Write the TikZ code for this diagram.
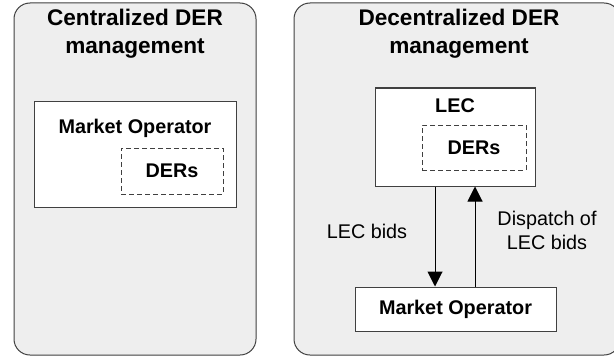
\documentclass[tikz,border=0pt]{standalone}
\usepackage{fontspec}
\setmainfont{Liberation Sans}
\usetikzlibrary{arrows.meta}
\definecolor{panelgray}{HTML}{EEEEEE}
\definecolor{edgegray}{HTML}{404040}
\begin{document}
\begin{tikzpicture}[x=0.5pt,y=-0.5pt,
    title/.style={font=\fontsize{11.3}{14}\selectfont\bfseries,align=center},
    lbl/.style={font=\fontsize{9.9}{12}\selectfont,align=center},
    boxlbl/.style={font=\fontsize{9.9}{12}\selectfont\bfseries},
    box/.style={draw=edgegray,fill=white,line width=0.5pt,inner sep=0pt},
    derbox/.style={box,dash pattern=on 2.5pt off 1.5pt,boxlbl},
    flow/.style={-{Triangle[length=7.5pt,width=7.5pt]},line width=0.5pt}]
    \clip (0,0) rectangle (614,358);
    \useasboundingbox (0,0) rectangle (614,358);
    % panels
    \filldraw[fill=panelgray,draw=edgegray,line width=0.5pt,rounded corners=8pt] (14,3) rectangle (256,355);
    \filldraw[fill=panelgray,draw=edgegray,line width=0.5pt,rounded corners=8pt] (294,3) rectangle (620,355);
    \node[title] (ctitle) at (135,34) {Centralized DER\\management};
    \node[title] (dtitle) at (459,34) {Decentralized DER\\management};
    % centralized
    \node[box,minimum width=101pt,minimum height=53pt] (cmo) at (135,154) {};
    \node[boxlbl] (cmolbl) at (135,128) {Market Operator};
    \node[derbox,minimum width=51pt,minimum height=23pt] (cder) at (172,171) {DERs};
    % decentralized
    \node[box,minimum width=80pt,minimum height=49pt] (lec) at (455,137) {};
    \node[boxlbl] (leclbl) at (455,106) {LEC};
    \node[derbox,minimum width=52pt,minimum height=22.5pt] (dder) at (474,147.5) {DERs};
    \node[box,boxlbl,minimum width=100.5pt,minimum height=22pt] (dmo) at (455.5,309) {Market Operator};
    \draw[flow] ([xshift=-10pt]lec.south) -- ([xshift=-10pt]lec.south |- dmo.north);
    \draw[flow] ([xshift=10pt]lec.south |- dmo.north) -- ([xshift=10pt]lec.south);
    \node[lbl] (bids) at (367,231) {LEC bids};
    \node[lbl] (dispatch) at (547,230) {Dispatch of\\LEC bids};
\end{tikzpicture}
\end{document}
